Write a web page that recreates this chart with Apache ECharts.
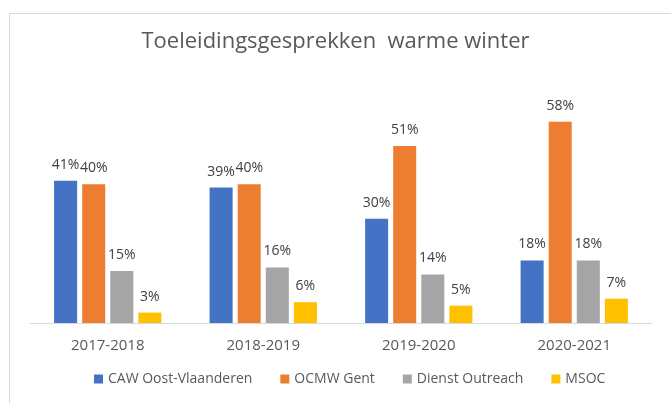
<!DOCTYPE html>
<html>
<head>
<meta charset="utf-8">
<script src="https://cdn.jsdelivr.net/npm/echarts@6/dist/echarts.min.js"></script>
<style>
    html, body { margin: 0; padding: 0; background: #fff; }
    #chart { width: 671px; height: 403px; }
</style>
</head>
<body>
<div id="chart"></div>
<script>
// data
const categories = ['2017-2018', '2018-2019', '2019-2020', '2020-2021'];
const caw = [41, 39, 30, 18];
const ocmw = [40, 40, 51, 58];
const outreach = [15, 16, 14, 18];
const msoc = [3, 6, 5, 7];

const seriesNames = ['CAW Oost-Vlaanderen', 'OCMW Gent', 'Dienst Outreach', 'MSOC'];
const colors = ['#4472C4', '#ED7D31', '#A5A5A5', '#FFC000'];
const fontName = 'Open Sans';

function makeSeries(name, data, color) {
    return {
        name: name,
        type: 'bar',
        data: data,
        barGap: '22%',
        barCategoryGap: '31%',
        itemStyle: { color: color },
        label: {
            show: true,
            position: 'top',
            distance: 9,
            formatter: '{c}%',
            color: '#404040',
            fontFamily: fontName,
            fontSize: 14
        }
    };
}

var chart = echarts.init(document.getElementById('chart'));
var option = {
    animation: false,
    color: colors,
    title: {
        text: 'Toeleidingsgesprekken  warme winter',
        left: 'center',
        top: 26,
        textStyle: {
            color: '#595959',
            fontFamily: fontName,
            fontWeight: 'normal',
            fontSize: 22
        }
    },
    graphic: [{
        type: 'rect',
        shape: { x: 9.5, y: 13.5, width: 700, height: 450 },
        style: { fill: 'none', stroke: '#D9D9D9', lineWidth: 1 },
        silent: true
    }],
    legend: {
        bottom: 12,
        left: 89,
        itemWidth: 9,
        itemHeight: 9,
        itemGap: 28,
        icon: 'rect',
        textStyle: { color: '#595959', fontFamily: fontName, fontSize: 14 },
        data: seriesNames
    },
    grid: { left: 30, right: 19, top: 80, bottom: 80 },
    xAxis: {
        type: 'category',
        data: categories,
        axisLine: { lineStyle: { color: '#D9D9D9', width: 1 } },
        axisTick: { show: false },
        axisLabel: { color: '#595959', fontFamily: fontName, fontSize: 15, margin: 15 }
    },
    yAxis: {
        type: 'value',
        min: 0,
        max: 70,
        show: false
    },
    series: [
        makeSeries(seriesNames[0], caw, colors[0]),
        makeSeries(seriesNames[1], ocmw, colors[1]),
        makeSeries(seriesNames[2], outreach, colors[2]),
        makeSeries(seriesNames[3], msoc, colors[3])
    ]
};
chart.setOption(option);
</script>
</body>
</html>
